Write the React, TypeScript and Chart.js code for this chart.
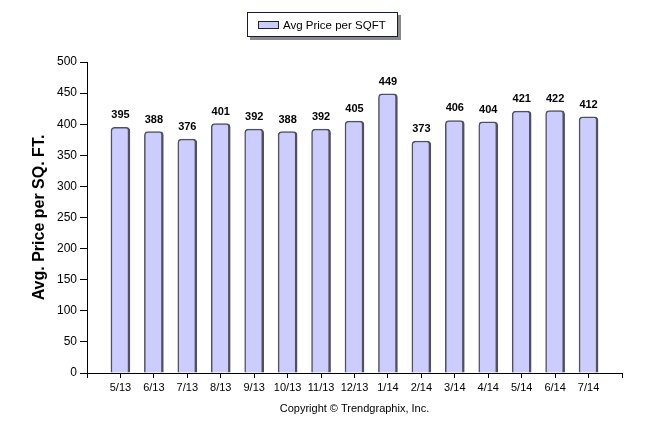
import React, { useEffect, useRef } from "react";
import { Chart, registerables } from "chart.js";

Chart.register(...registerables);

const categories = ["5/13", "6/13", "7/13", "8/13", "9/13", "10/13", "11/13", "12/13", "1/14", "2/14", "3/14", "4/14", "5/14", "6/14", "7/14"];
const avgPrice = [395, 388, 376, 401, 392, 388, 392, 405, 449, 373, 406, 404, 421, 422, 412];
const seriesName = "Avg Price per SQFT";
const yTitle = "Avg. Price per SQ. FT.";
const copyright = "Copyright \u00A9 Trendgraphix, Inc.";

const FONT = "'Liberation Sans', Arial, sans-serif";
const BAR_FILL = "#ccccff";
const BAR_BORDER = "#505060";

const legendPlugin = {
  id: "boxLegend",
  afterDraw(chart: any) {
    const ctx = chart.ctx;
    ctx.save();
    ctx.fillStyle = "#8a8a8a";
    ctx.fillRect(250, 15, 151, 25);
    ctx.fillStyle = "#ffffff";
    ctx.fillRect(247, 12, 151, 25);
    ctx.strokeStyle = "#1a1a40";
    ctx.lineWidth = 1;
    ctx.strokeRect(247.5, 12.5, 150, 24);
    ctx.fillStyle = BAR_FILL;
    ctx.fillRect(258, 21, 21, 8);
    ctx.strokeStyle = "#222233";
    ctx.strokeRect(258.5, 21.5, 20, 7);
    ctx.fillStyle = "#000";
    ctx.font = `11.5px ${FONT}`;
    ctx.textAlign = "left";
    ctx.textBaseline = "middle";
    ctx.fillText(seriesName, 283, 25.5);
    ctx.restore();
  },
};

const valueLabelPlugin = {
  id: "valueLabels",
  afterDatasetsDraw(chart: any) {
    const ctx = chart.ctx;
    const meta = chart.getDatasetMeta(0);
    const data = chart.data.datasets[0].data;
    ctx.save();
    ctx.fillStyle = "#000";
    ctx.font = `bold 11px ${FONT}`;
    ctx.textAlign = "center";
    ctx.textBaseline = "middle";
    meta.data.forEach((el: any, i: number) => {
      const v = data[i];
      if (v === null || v === undefined) return;
      ctx.fillText(String(v), el.x, el.y - 12);
    });
    ctx.restore();
  },
};

export default function App() {
  const canvasRef = useRef<HTMLCanvasElement | null>(null);

  useEffect(() => {
    if (!canvasRef.current) return;
    const labels = ["", ...categories, ""];
    const values = [null, ...avgPrice, null];
    const chart = new Chart(canvasRef.current, {
      type: "bar",
      data: {
        labels,
        datasets: [
          {
            label: seriesName,
            data: values as any,
            backgroundColor: BAR_FILL,
            borderColor: BAR_BORDER,
            borderWidth: { top: 1.5, left: 1.5, right: 2.5, bottom: 0 } as any,
            borderRadius: { topLeft: 4, topRight: 4, bottomLeft: 0, bottomRight: 0 },
            borderSkipped: "bottom",
            barThickness: 19,
          },
        ],
      },
      options: {
        animation: false,
        responsive: true,
        maintainAspectRatio: false,
        layout: { padding: { top: 62, right: 24, bottom: 0, left: 0 } },
        plugins: {
          legend: { display: false },
          tooltip: { enabled: false },
          title: { display: false },
        },
        scales: {
          x: {
            type: "category",
            offset: false,
            grid: {
              offset: false,
              drawOnChartArea: false,
              drawTicks: true,
              tickLength: 5,
              color: "#000",
            },
            border: { display: true, color: "#000", width: 1 },
            ticks: {
              autoSkip: false,
              maxRotation: 0,
              padding: 3,
              color: "#000",
              font: { family: FONT, size: 11 },
            },
            title: {
              display: true,
              text: copyright,
              color: "#000",
              font: { family: FONT, size: 11 },
              padding: { top: 0, bottom: 18.4 },
            },
            afterFit(scale: any) {
              scale.height = 61;
            },
          },
          y: {
            min: 0,
            max: 500,
            grid: {
              drawOnChartArea: false,
              drawTicks: true,
              tickLength: 7,
              color: "#000",
            },
            border: { display: true, color: "#000", width: 1 },
            ticks: {
              stepSize: 50,
              padding: 3,
              color: "#000",
              font: { family: FONT, size: 12 },
            },
            title: {
              display: true,
              text: yTitle,
              color: "#000",
              font: { family: FONT, size: 16, weight: "bold" },
              padding: { top: 30.4, bottom: 0 },
            },
            afterFit(scale: any) {
              scale.width = 87;
            },
          },
        },
      },
      plugins: [legendPlugin, valueLabelPlugin],
    });
    return () => chart.destroy();
  }, []);

  return (
    <div style={{ position: "absolute", left: 0, top: 0, width: 646, height: 434, background: "#fff" }}>
      <canvas ref={canvasRef} />
    </div>
  );
}
